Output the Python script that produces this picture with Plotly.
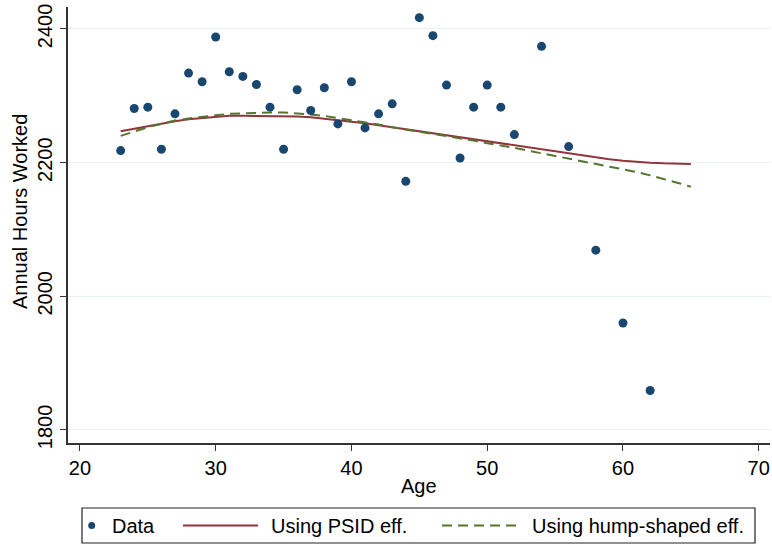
import plotly.graph_objects as go

# Observed average annual hours by age
data_age = [23, 24, 25, 26, 27, 28, 29, 30, 31, 32, 33, 34, 35, 36, 37, 38, 39, 40,
            41, 42, 43, 44, 45, 46, 47, 48, 49, 50, 51, 52, 54, 56, 58, 60, 62]
data_hours = [2218, 2281, 2283, 2220, 2273, 2334, 2321, 2388, 2336, 2329, 2317, 2283,
              2220, 2309, 2278, 2312, 2258, 2321, 2252, 2273, 2288, 2172, 2417, 2390,
              2316, 2207, 2283, 2316, 2283, 2242, 2374, 2224, 2069, 1960, 1859]

# Model-implied hours profiles, ages 23-65
model_age = list(range(23, 66))
psid_hours = [2247, 2251, 2255, 2259, 2262, 2265, 2267, 2269, 2270, 2270, 2270, 2270,
              2270, 2269, 2268, 2266, 2264, 2262, 2259, 2256, 2253, 2250, 2247, 2244,
              2241, 2237, 2234, 2231, 2228, 2225, 2222, 2219, 2216, 2213, 2210, 2207,
              2205, 2203, 2201, 2200, 2199, 2198, 2198]
hump_hours = [2240, 2247, 2253, 2258, 2263, 2266, 2269, 2271, 2273, 2274, 2275, 2275,
              2275, 2274, 2272, 2270, 2267, 2264, 2260, 2257, 2253, 2249, 2246, 2243,
              2240, 2236, 2233, 2229, 2226, 2222, 2218, 2214, 2211, 2207, 2203, 2199,
              2195, 2190, 2186, 2181, 2176, 2170, 2164]

x_ticks = [20, 30, 40, 50, 60, 70]
y_ticks = [1800, 2000, 2200, 2400]

NAVY = "#1a476f"
MAROON = "#90353b"
GREEN = "#55752f"
FONT = "Liberation Sans, Arial, sans-serif"

W, H = 772, 548
L, R, T, B = 68, 2, 7, 105
PW, PH = W - L - R, H - T - B


def px(xp):
    return (xp - L) / PW


def py(yp):
    return (H - B - yp) / PH


fig = go.Figure()
fig.add_trace(go.Scatter(x=model_age, y=psid_hours, mode="lines",
                         line=dict(color=MAROON, width=2), name="Using PSID eff."))
fig.add_trace(go.Scatter(x=model_age, y=hump_hours, mode="lines",
                         line=dict(color=GREEN, width=2, dash="10px,6px"),
                         name="Using hump-shaped eff."))
fig.add_trace(go.Scatter(x=data_age, y=data_hours, mode="markers",
                         marker=dict(color=NAVY, size=9, line=dict(width=0)),
                         name="Data"))

fig.update_layout(
    width=W, height=H,
    margin=dict(l=L, r=R, t=T, b=B),
    paper_bgcolor="white", plot_bgcolor="white",
    showlegend=False,
    font=dict(family=FONT, size=20, color="black"),
)
fig.update_xaxes(
    range=[19.12, 70.83], tickvals=x_ticks, showgrid=False, zeroline=False,
    showline=True, linecolor="#333333", linewidth=1.5,
    ticks="outside", ticklen=6, tickcolor="#333333", tickwidth=1.2,
    tickfont=dict(size=20),
)
fig.update_yaxes(
    range=[1780.5, 2432.9], tickvals=y_ticks, showgrid=True, gridcolor="#e8f0f2",
    gridwidth=1, zeroline=False, showline=True, linecolor="#333333", linewidth=1.5,
    ticks="outside", ticklen=6, tickcolor="#333333", tickwidth=1.2,
    tickangle=-90, tickfont=dict(size=20),
)

# Axis titles
fig.add_annotation(text="Age", xref="paper", yref="paper", x=px(419), y=py(486),
                   showarrow=False, font=dict(size=20), xanchor="center", yanchor="middle")
fig.add_annotation(text="Annual Hours Worked", xref="paper", yref="paper",
                   x=px(20), y=py(212), textangle=-90, showarrow=False,
                   font=dict(size=20), xanchor="center", yanchor="middle")

# Legend box
ly = 525.5
fig.add_shape(type="rect", xref="paper", yref="paper",
              x0=px(82), x1=px(755), y0=py(508), y1=py(543),
              line=dict(color="#222222", width=1.2), fillcolor="white")
fig.add_shape(type="circle", xref="paper", yref="paper",
              x0=px(88.2), x1=px(95.2), y0=py(ly - 3.5), y1=py(ly + 3.5),
              line=dict(width=0), fillcolor=NAVY)
fig.add_shape(type="line", xref="paper", yref="paper",
              x0=px(183), x1=px(258), y0=py(ly), y1=py(ly),
              line=dict(color=MAROON, width=2))
fig.add_shape(type="line", xref="paper", yref="paper",
              x0=px(442), x1=px(518), y0=py(ly), y1=py(ly),
              line=dict(color=GREEN, width=2, dash="10px,6px"))
for label, xpos in [("Data", 110), ("Using PSID eff.", 269), ("Using hump-shaped eff.", 530)]:
    fig.add_annotation(text=label, xref="paper", yref="paper", x=px(xpos), y=py(ly),
                       showarrow=False, xanchor="left", yanchor="middle",
                       font=dict(size=20))

fig.write_html("out.html")
